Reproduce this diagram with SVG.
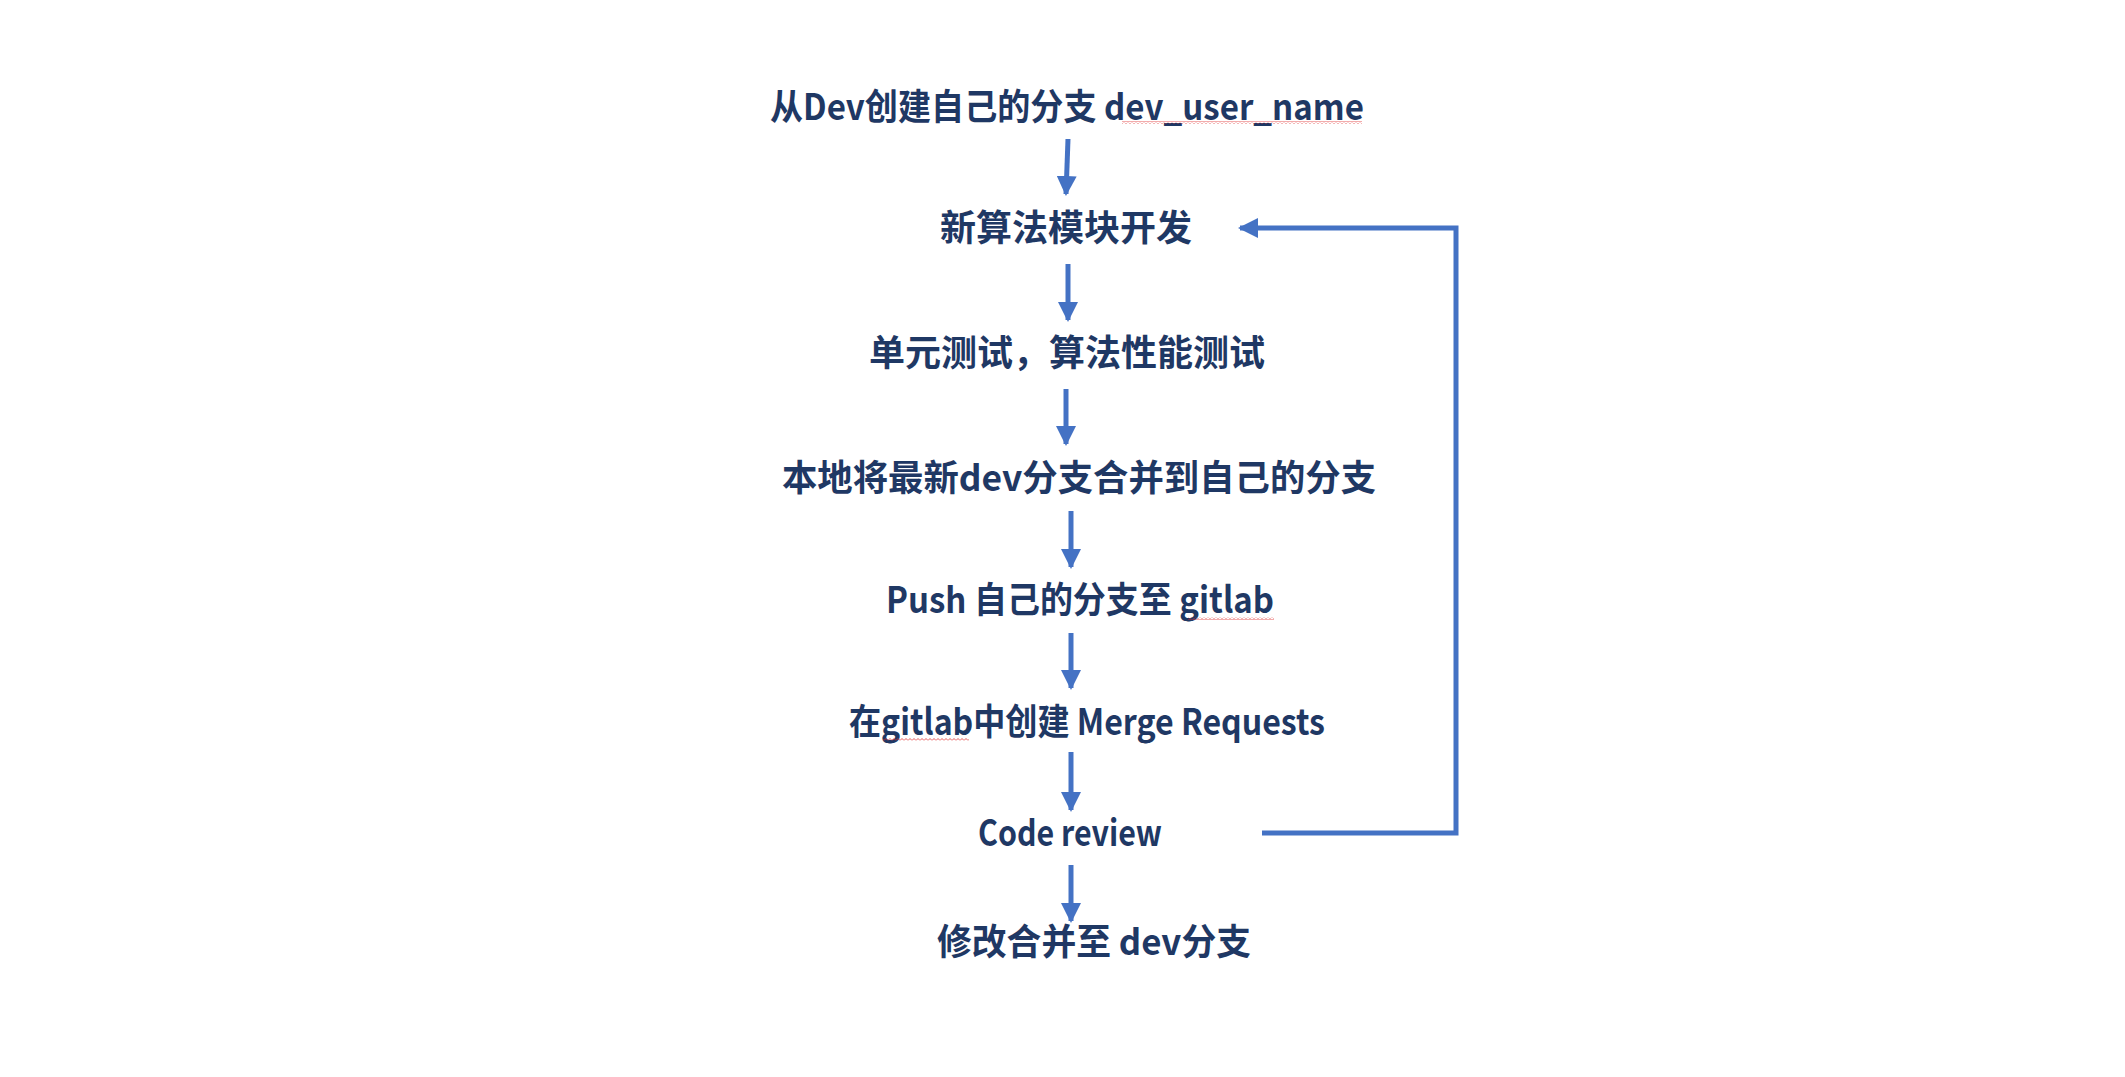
<svg xmlns="http://www.w3.org/2000/svg" width="2125" height="1077" viewBox="0 0 2125 1077">
<style>
.t{font-family:"Noto Sans CJK SC","Noto Sans",sans-serif;font-size:36px;font-weight:bold;fill:#1F3864;text-anchor:middle}
.c{fill:none;stroke:#4472C4;stroke-width:5}
</style>
<defs>
<marker id="ah" markerUnits="userSpaceOnUse" markerWidth="20" markerHeight="20" refX="18" refY="10" orient="auto">
<path d="M0,0 L20,10 L0,20 Z" fill="#4472C4"/>
</marker>
<pattern id="squig" patternUnits="userSpaceOnUse" width="4" height="3">
<path d="M0,2.5 L2,0.5 L4,2.5" fill="none" stroke="#E03030" stroke-width="0.8"/>
</pattern>
</defs>
<rect width="2125" height="1077" fill="#FFFFFF"/>
<g id="connectors">
<line class="c" x1="1068" y1="139" x2="1066" y2="194" marker-end="url(#ah)"/>
<line class="c" x1="1068" y1="264" x2="1068" y2="320" marker-end="url(#ah)"/>
<line class="c" x1="1066" y1="389" x2="1066" y2="444" marker-end="url(#ah)"/>
<line class="c" x1="1071" y1="511" x2="1071" y2="567" marker-end="url(#ah)"/>
<line class="c" x1="1071" y1="633" x2="1071" y2="688" marker-end="url(#ah)"/>
<line class="c" x1="1071" y1="752" x2="1071" y2="810" marker-end="url(#ah)"/>
<line class="c" x1="1071" y1="865" x2="1071" y2="921" marker-end="url(#ah)"/>
<polyline class="c" points="1262,833 1456,833 1456,228 1240,228" marker-end="url(#ah)"/>
</g>
<g id="n1"><text class="t" x="1067" y="120" textLength="594" lengthAdjust="spacingAndGlyphs">从Dev创建自己的分支 dev_user_name</text>
<rect x="1122" y="121" width="240" height="3" fill="url(#squig)"/></g>
<g id="n2"><text class="t" x="1066" y="241" textLength="252" lengthAdjust="spacingAndGlyphs">新算法模块开发</text></g>
<g id="n3"><text class="t" x="1067" y="366" textLength="396" lengthAdjust="spacingAndGlyphs">单元测试，算法性能测试</text></g>
<g id="n4"><text class="t" x="1079" y="491" textLength="594" lengthAdjust="spacingAndGlyphs">本地将最新dev分支合并到自己的分支</text></g>
<g id="n5"><text class="t" x="1080" y="613" textLength="388" lengthAdjust="spacingAndGlyphs">Push 自己的分支至 gitlab</text>
<rect x="1188" y="617" width="86" height="3" fill="url(#squig)"/></g>
<g id="n6"><text class="t" x="1087" y="735" textLength="476" lengthAdjust="spacingAndGlyphs">在gitlab中创建 Merge Requests</text>
<rect x="883" y="738" width="86" height="3" fill="url(#squig)"/></g>
<g id="n7"><text class="t" x="1070" y="846" textLength="184" lengthAdjust="spacingAndGlyphs">Code review</text></g>
<g id="n8"><text class="t" x="1094" y="955" textLength="314" lengthAdjust="spacingAndGlyphs">修改合并至 dev分支</text></g>
</svg>
